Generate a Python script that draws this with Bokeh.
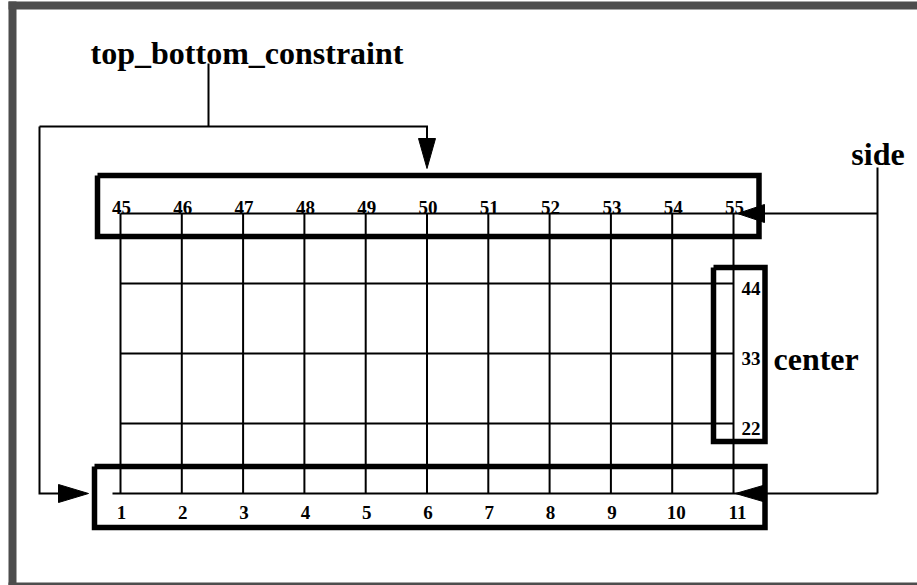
from bokeh.plotting import figure
from bokeh.models import Range1d
from bokeh.core.properties import value
from bokeh.embed import file_html
from bokeh.resources import INLINE

# ---- data: node ids of the 5 x 11 grid ----
bottom_ids = [1, 2, 3, 4, 5, 6, 7, 8, 9, 10, 11]
top_ids = [45, 46, 47, 48, 49, 50, 51, 52, 53, 54, 55]
center_ids = [44, 33, 22]
n_cols = 11
n_rows = 5
title_label = "top_bottom_constraint"
side_label = "side"
center_label = "center"

# ---- layout (pixel space of the picture) ----
X0, DX = 120.0, 61.3
YB, DY = 493.0, 70.0


def col_x(c):
    return X0 + c * DX


def row_y(r):
    return YB - r * DY


def node_pos(i):
    return col_x((i - 1) % n_cols), row_y((i - 1) // n_cols)


FONT = value("Liberation Serif")
INK = "black"

W, H = 917, 585
p = figure(width=W, height=H, output_backend="svg", toolbar_location=None,
           x_axis_type=None, y_axis_type=None,
           x_range=Range1d(0, W), y_range=Range1d(H, 0),
           min_border=0, outline_line_color=None,
           background_fill_color="white", border_fill_color="white")
p.grid.visible = False

# gray frame
GRAY = "#4d4d4d"
p.quad(left=[8, 8, 8], right=[16, 930, 930], top=[1, 1, 582], bottom=[590, 9, 590],
       fill_color=GRAY, line_color=None)

# grid lines
top_y = row_y(n_rows - 1)
vx, vy = [], []
for c in range(n_cols):
    x = col_x(c)
    vx.append([x, x])
    vy.append([top_y, YB])
last_x = col_x(n_cols - 1)
for r in range(1, n_rows - 1):
    vx.append([X0, last_x])
    vy.append([row_y(r), row_y(r)])
vx.append([X0, 763]); vy.append([top_y, top_y])
vx.append([X0 - 8, 765]); vy.append([YB, YB])
p.multi_line(vx, vy, line_color=INK, line_width=2)

# connectors
arrow_x = col_x(5)
cx = [[208, 208], [39, arrow_x, arrow_x], [39, 39, 58],
      [877, 877], [877, 763], [877, 765]]
cy = [[63, 126], [126, 126, 138], [126, YB, YB],
      [167, YB], [top_y, top_y], [YB, YB]]
p.multi_line(cx, cy, line_color=INK, line_width=2, line_join="miter")

# arrowheads
ax = [[arrow_x - 8.5, arrow_x + 8.5, arrow_x],
      [58, 58, 88],
      [764, 764, 737],
      [766, 766, 735]]
ay = [[138, 138, 168],
      [YB - 9, YB + 9, YB],
      [top_y - 9, top_y + 9, top_y],
      [YB - 9, YB + 9, YB]]
p.patches(ax, ay, fill_color=INK, line_color=INK, line_width=1)

# bold boxes
bx = [[97, 758.5, 758.5, 97, 97],
      [94, 764.5, 764.5, 94, 94],
      [713, 764.5, 764.5, 713, 713]]
by = [[175, 175, 236, 236, 175],
      [466, 466, 527, 527, 466],
      [267, 267, 441, 441, 267]]
p.multi_line(bx, by, line_color=INK, line_width=5.5, line_join="miter")

# node labels
tx = [node_pos(i)[0] + 1 for i in top_ids]
ty = [node_pos(i)[1] - 6 for i in top_ids]
p.text(tx, ty, text=[str(i) for i in top_ids], text_font=FONT, text_font_style="bold",
       text_font_size="19px", text_align="center", text_baseline="alphabetic", text_color=INK)
bx2 = [node_pos(i)[0] + (1 if i < 10 else 4) for i in bottom_ids]
by2 = [node_pos(i)[1] + 19 for i in bottom_ids]
p.text(bx2, by2, text=[str(i) for i in bottom_ids], text_font=FONT, text_font_style="bold",
       text_font_size="19px", text_align="center", text_baseline="alphabetic", text_color=INK)
sx = [node_pos(i)[0] + 17.5 for i in center_ids]
sy = [node_pos(i)[1] + 5 for i in center_ids]
p.text(sx, sy, text=[str(i) for i in center_ids], text_font=FONT, text_font_style="bold",
       text_font_size="19px", text_align="center", text_baseline="alphabetic", text_color=INK)

# big labels
p.text([246.5], [52], text=[title_label], text_font=FONT, text_font_style="bold",
       text_font_size="32px", text_align="center", text_baseline="alphabetic", text_color=INK)
p.text([877.5], [153], text=[side_label], text_font=FONT, text_font_style="bold",
       text_font_size="32px", text_align="center", text_baseline="alphabetic", text_color=INK)
p.text([773], [358], text=[center_label], text_font=FONT, text_font_style="bold",
       text_font_size="32px", text_align="left", text_baseline="alphabetic", text_color=INK)

open("out.html", "w").write(file_html(p, INLINE))
